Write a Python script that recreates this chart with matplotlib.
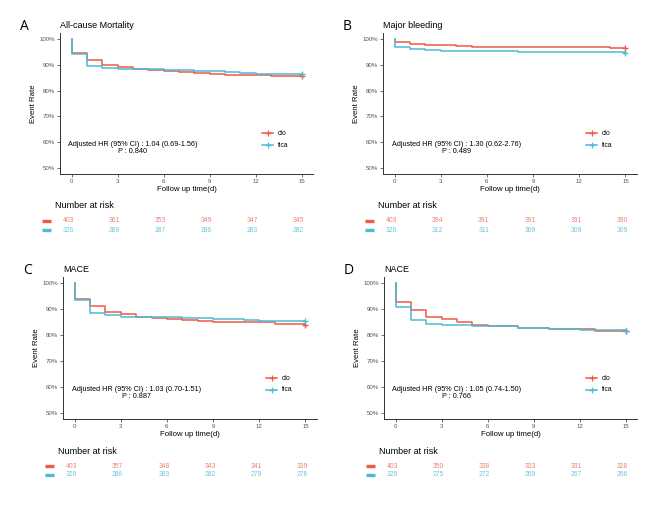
import matplotlib.pyplot as plt
import numpy as np

plt.rcParams['font.family'] = ['Liberation Sans', 'DejaVu Sans']

RED = '#EE5A45'
BLUE = '#4DBBD5'
RED_TXT = '#F2827A'
BLUE_TXT = '#6CC8E0'

# ---- data (step times in days, survival %) ----
panel_letters = ['A', 'B', 'C', 'D']
panel_titles = ['All-cause Mortality', 'Major bleeding', 'MACE', 'NACE']

clo_t = [
    [0, 0.001, 1, 2, 3, 4, 5, 6, 7, 8, 9, 10, 11, 13, 15],
    [0, 0.001, 1, 2, 4, 5, 14, 15],
    [0, 0.001, 1, 2, 3, 4, 5, 6, 7, 8, 9, 13, 15],
    [0, 0.001, 1, 2, 3, 4, 5, 6, 8, 9, 10, 13, 15],
]
clo_s = [
    [100, 94.6, 92.0, 89.9, 89.2, 88.3, 88.0, 87.6, 87.2, 86.8, 86.5, 86.3, 86.2, 85.7, 85.6],
    [100, 99.0, 98.2, 97.9, 97.6, 97.2, 96.8, 96.8],
    [100, 93.9, 91.1, 88.8, 88.0, 87.2, 86.5, 86.2, 85.9, 85.3, 85.0, 84.4, 84.1],
    [100, 92.7, 89.6, 87.1, 86.3, 85.0, 84.0, 83.6, 82.9, 82.6, 82.4, 81.6, 81.4],
]
tica_t = [
    [0, 0.001, 1, 2, 3, 6, 7, 8, 9, 10, 11, 12, 13, 15],
    [0, 0.001, 1, 2, 3, 6, 8, 15],
    [0, 0.001, 1, 2, 3, 5, 7, 9, 11, 12, 15],
    [0, 0.001, 1, 2, 3, 5, 8, 10, 12, 15],
]
tica_s = [
    [100, 94.3, 89.8, 88.8, 88.3, 88.1, 88.0, 87.7, 87.5, 87.2, 86.9, 86.7, 86.5, 86.5],
    [100, 97.2, 96.3, 95.9, 95.6, 95.3, 95.0, 94.8],
    [100, 93.6, 88.6, 87.7, 87.2, 86.9, 86.7, 86.2, 85.8, 85.4, 85.3],
    [100, 90.8, 85.7, 84.4, 83.9, 83.5, 82.8, 82.2, 81.9, 81.6],
]

hr_text = ['1.04 (0.69-1.56)', '1.30 (0.62-2.76)', '1.03 (0.70-1.51)', '1.05 (0.74-1.50)']
p_text = ['0.840', '0.489', '0.887', '0.766']

risk_times = [0, 3, 6, 9, 12, 15]
risk_clo = [
    [403, 361, 353, 349, 347, 345],
    [403, 394, 391, 391, 391, 390],
    [403, 357, 348, 343, 341, 339],
    [403, 350, 338, 333, 331, 328],
]
risk_tica = [
    [326, 289, 287, 286, 283, 282],
    [326, 312, 311, 309, 309, 309],
    [326, 286, 283, 282, 279, 278],
    [326, 275, 272, 269, 267, 266],
]

W, H = 669, 505
fig = plt.figure(figsize=(W / 100, H / 100), dpi=100)


def px_axes(left, top, right, bottom):
    return fig.add_axes([left / W, 1 - bottom / H, (right - left) / W, (bottom - top) / H])


# pixel boxes of each main plot: left, top, right, bottom
boxes = [
    (60, 33, 313, 174),
    (383, 33, 637, 174),
    (63, 277, 317, 419),
    (384, 277, 637, 419),
]

for i, (l, t, r, b) in enumerate(boxes):
    ax = px_axes(l, t, r, b)
    ax.step(clo_t[i], clo_s[i], where='post', color=RED, lw=1.1)
    ax.step(tica_t[i], tica_s[i], where='post', color=BLUE, lw=1.1)
    ax.plot(clo_t[i][-1], clo_s[i][-1], '+', color=RED, ms=5, mew=1)
    ax.plot(tica_t[i][-1], tica_s[i][-1], '+', color=BLUE, ms=5, mew=1)

    ax.set_xlim(-0.75, 15.75)
    ax.set_ylim(47.5, 102.5)
    ax.set_xticks(range(0, 16, 3))
    ax.set_yticks(range(50, 101, 10))
    ax.set_yticklabels([f'{v}%' for v in range(50, 101, 10)])
    ax.tick_params(labelsize=4.4, labelcolor='#555555', color='#333333', length=2, width=0.5, pad=1.5)
    for s in ['top', 'right']:
        ax.spines[s].set_visible(False)
    for s in ['left', 'bottom']:
        ax.spines[s].set_color('#333333')
        ax.spines[s].set_linewidth(0.7)
    ax.set_xlabel('Follow up time(d)', fontsize=5.6, labelpad=1.5)
    ax.set_ylabel('Event Rate', fontsize=5.6, labelpad=1.5)

    ax.text(0, 1.05, panel_titles[i], transform=ax.transAxes, fontsize=6.5, ha='left', va='center')
    ax.text(-0.14, 1.045, panel_letters[i], transform=ax.transAxes, fontsize=10, ha='center', va='center',
            family=['Open Sans', 'DejaVu Sans'])

    ax.text(4.0, 59.1, f'Adjusted HR (95% CI) : {hr_text[i]}', fontsize=5.2, ha='center', va='center')
    ax.text(4.0, 56.4, f'P : {p_text[i]}', fontsize=5.2, ha='center', va='center')

    # legend drawn by hand inside the plot area
    ax.plot([12.43, 13.15], [63.3, 63.3], color=RED, lw=1.1)
    ax.plot(12.8, 63.3, '+', color=RED, ms=4, mew=0.9)
    ax.text(13.47, 63.3, 'clo', fontsize=4.9, va='center')
    ax.plot([12.43, 13.15], [58.8, 58.8], color=BLUE, lw=1.1)
    ax.plot(12.8, 58.8, '+', color=BLUE, ms=4, mew=0.9)
    ax.text(13.47, 58.8, 'tica', fontsize=4.9, va='center')

    # number at risk table below
    rax = px_axes(l, b + 28, r, b + 64)
    rax.set_xlim(-0.75, 15.75)
    rax.set_ylim(0, 36)
    rax.axis('off')
    rax.text(-1.1, 32, 'Number at risk', fontsize=6.5, ha='left', va='center')
    for tt, nc, nt in zip(risk_times, risk_clo[i], risk_tica[i]):
        rax.text(tt - 0.2, 17, str(nc), fontsize=4.9, color=RED_TXT, ha='center', va='center')
        rax.text(tt - 0.2, 8, str(nt), fontsize=4.9, color=BLUE_TXT, ha='center', va='center')
    rax.plot([-1.92, -1.34], [17, 17], color=RED, lw=2.4, solid_capstyle='butt', clip_on=False)
    rax.plot([-1.92, -1.34], [8, 8], color=BLUE, lw=2.4, solid_capstyle='butt', clip_on=False)

fig.savefig('out.png', dpi=100)
